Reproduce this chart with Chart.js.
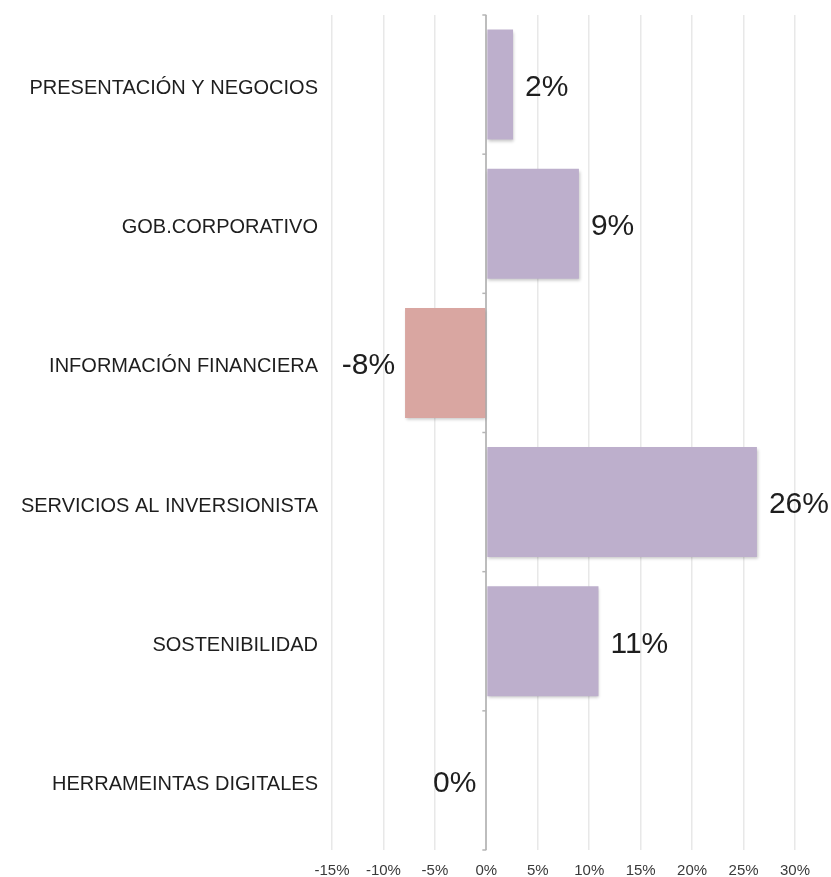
<!DOCTYPE html>
<html>
<head>
<meta charset="utf-8">
<script src="https://cdn.jsdelivr.net/npm/chart.js@4.4.1/dist/chart.umd.min.js"></script>
<style>
  body { margin: 0; background: #fff; }
  #wrap { width: 831px; height: 877px; }
</style>
</head>
<body>
<div id="wrap"><canvas id="chartAreas"></canvas></div>
<script>
const categories = [
    'PRESENTACIÓN Y NEGOCIOS',
    'GOB.CORPORATIVO',
    'INFORMACIÓN FINANCIERA',
    'SERVICIOS AL INVERSIONISTA',
    'SOSTENIBILIDAD',
    'HERRAMEINTAS DIGITALES'
];
const values = [2.6, 9.0, -7.9, 26.3, 10.9, 0];
const valueLabels = ['2%', '9%', '-8%', '26%', '11%', '0%'];
const xTicks = [-15, -10, -5, 0, 5, 10, 15, 20, 25, 30];

const barColors = values.map(v => v < 0 ? '#d9a6a1' : '#bdafcc');

// soft shadow under the bars
const barShadow = {
    id: 'barShadow',
    beforeDatasetsDraw(chart) {
        const c = chart.ctx;
        c.save();
        c.shadowColor = 'rgba(0,0,0,0.22)';
        c.shadowBlur = 3;
        c.shadowOffsetX = 1;
        c.shadowOffsetY = 2;
    },
    afterDatasetsDraw(chart) {
        chart.ctx.restore();
    }
};

// little ticks on the zero line between categories
const zeroTicks = {
    id: 'zeroTicks',
    afterDraw(chart) {
        const c = chart.ctx;
        const x0 = chart.scales.x.getPixelForValue(0);
        const ys = chart.scales.y;
        c.save();
        c.strokeStyle = '#b5b5b5';
        c.lineWidth = 1.5;
        for (let i = 0; i <= categories.length; i++) {
            const y = ys.getPixelForValue(i - 0.5);
            c.beginPath();
            c.moveTo(x0 - 4, y);
            c.lineTo(x0, y);
            c.stroke();
        }
        c.restore();
    }
};

// value text next to each bar
const valueText = {
    id: 'valueText',
    afterDatasetsDraw(chart) {
        const c = chart.ctx;
        const meta = chart.getDatasetMeta(0);
        c.save();
        c.font = '30px "Liberation Sans", Arial, sans-serif';
        c.fillStyle = '#1e1e1e';
        c.textBaseline = 'middle';
        meta.data.forEach((bar, i) => {
            if (values[i] > 0) {
                c.textAlign = 'left';
                c.fillText(valueLabels[i], bar.x + 12, bar.y + 3);
            } else {
                c.textAlign = 'right';
                c.fillText(valueLabels[i], bar.x - 10, bar.y + 3);
            }
        });
        c.restore();
    }
};

const ctxAreas = document.getElementById('chartAreas');

const chartAreas = new Chart(ctxAreas, {
    type: 'bar',
    data: {
        labels: categories,
        datasets: [{
            data: values,
            backgroundColor: barColors,
            borderWidth: 0,
            categoryPercentage: 0.79,
            barPercentage: 1
        }]
    },
    plugins: [barShadow, valueText, zeroTicks],
    options: {
        indexAxis: 'y',
        responsive: true,
        maintainAspectRatio: false,
        animation: false,
        layout: {
            padding: { top: 15, right: 36, bottom: 0, left: 0 }
        },
        plugins: {
            legend: { display: false },
            tooltip: { enabled: false }
        },
        scales: {
            x: {
                min: -15,
                max: 30,
                afterBuildTicks(scale) {
                    scale.ticks = xTicks.map(v => ({ value: v }));
                },
                afterFit(scale) {
                    scale.height = 27;
                },
                ticks: {
                    callback: v => v + '%',
                    color: '#3a3a3a',
                    font: { family: '"Liberation Sans", Arial, sans-serif', size: 15 },
                    padding: 12,
                    maxRotation: 0
                },
                grid: {
                    drawTicks: false,
                    color: c => c.tick && c.tick.value === 0 ? '#bdbdbd' : '#e8e8e8',
                    lineWidth: c => c.tick && c.tick.value === 0 ? 2 : 1.5
                },
                border: { display: false }
            },
            y: {
                afterFit(scale) {
                    scale.width = 332;
                    scale.paddingTop = 0;
                    scale.paddingBottom = 0;
                },
                ticks: {
                    color: '#1e1e1e',
                    font: { family: '"Liberation Sans", Arial, sans-serif', size: 20 },
                    padding: 14,
                    labelOffset: 4
                },
                grid: { display: false, drawTicks: false },
                border: { display: false }
            }
        }
    }
});
</script>
</body>
</html>
